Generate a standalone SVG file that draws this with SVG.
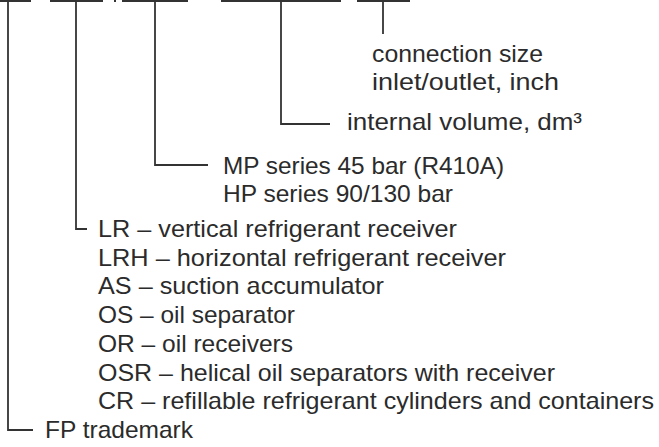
<svg xmlns="http://www.w3.org/2000/svg" width="659" height="447" viewBox="0 0 659 447">
<style>
.ln{fill:none;stroke:#333;stroke-width:1.8;stroke-linecap:butt}
.t{font-family:"Liberation Sans","Noto Sans",sans-serif;font-size:24px;fill:#2b2b2b}
</style>
<rect width="659" height="447" fill="#fff"/>
<g id="connectors">
<path class="ln" d="M0 1H31M50 1H103M122 1H188M221 1H341M357 1H410"/>
<rect x="114" y="0" width="2" height="2" fill="#333"/>
<path class="ln" d="M383 1V34"/>
<path class="ln" d="M281 1V124H330"/>
<path class="ln" d="M155 1V165H208"/>
<path class="ln" d="M76 1V229H87"/>
<path class="ln" d="M8 1V430H33"/>
</g>
<g id="node-connection">
<text class="t" x="372" y="62" textLength="171" lengthAdjust="spacingAndGlyphs">connection size</text>
<text class="t" x="372" y="90" textLength="187" lengthAdjust="spacingAndGlyphs">inlet/outlet, inch</text>
</g>
<g id="node-volume">
<text class="t" x="347" y="130" textLength="235" lengthAdjust="spacingAndGlyphs">internal volume, dm³</text>
</g>
<g id="node-series">
<text class="t" x="223" y="174" textLength="281" lengthAdjust="spacingAndGlyphs">MP series 45 bar (R410A)</text>
<text class="t" x="223" y="202" textLength="230" lengthAdjust="spacingAndGlyphs">HP series 90/130 bar</text>
</g>
<g id="node-type">
<text class="t" x="98" y="237" textLength="359" lengthAdjust="spacingAndGlyphs">LR – vertical refrigerant receiver</text>
<text class="t" x="98" y="265.7" textLength="408" lengthAdjust="spacingAndGlyphs">LRH – horizontal refrigerant receiver</text>
<text class="t" x="98" y="294.4" textLength="286" lengthAdjust="spacingAndGlyphs">AS – suction accumulator</text>
<text class="t" x="98" y="323.1" textLength="197" lengthAdjust="spacingAndGlyphs">OS – oil separator</text>
<text class="t" x="98" y="351.8" textLength="195" lengthAdjust="spacingAndGlyphs">OR – oil receivers</text>
<text class="t" x="98" y="380.5" textLength="457" lengthAdjust="spacingAndGlyphs">OSR – helical oil separators with receiver</text>
<text class="t" x="98" y="409.2" textLength="556" lengthAdjust="spacingAndGlyphs">CR – refillable refrigerant cylinders and containers</text>
</g>
<g id="node-trademark">
<text class="t" x="45" y="437.9" textLength="148" lengthAdjust="spacingAndGlyphs">FP trademark</text>
</g>
</svg>
